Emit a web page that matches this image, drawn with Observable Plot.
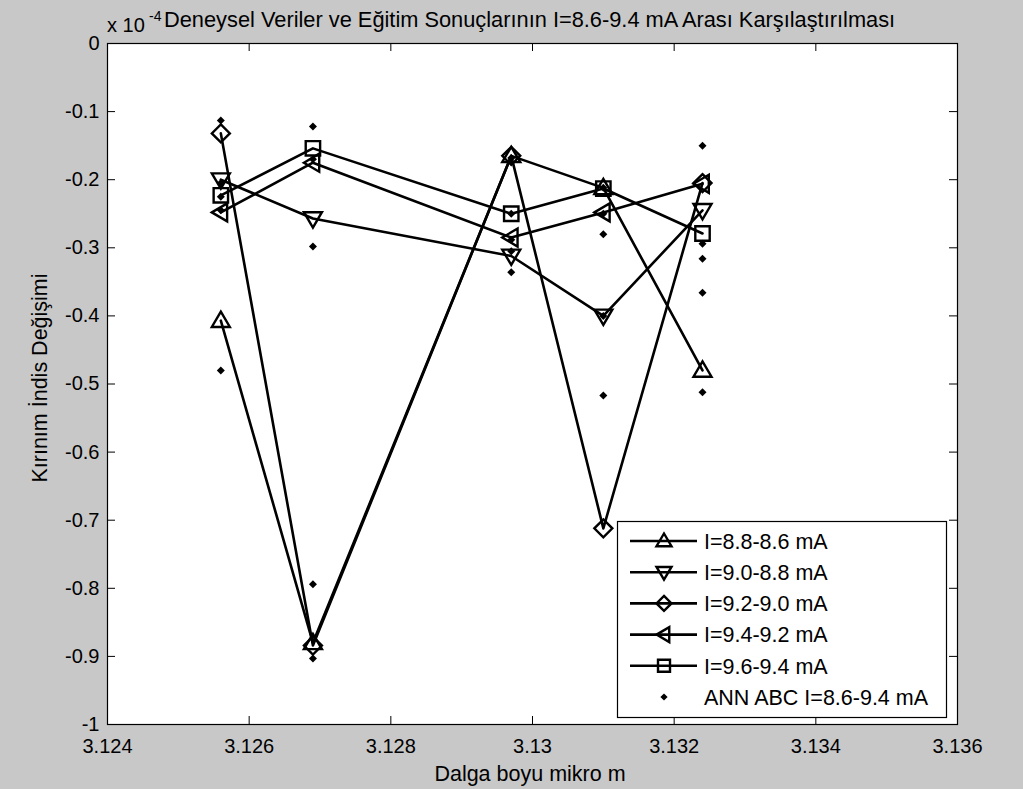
<!DOCTYPE html>
<html>
<head>
<meta charset="utf-8">
<script src="https://cdn.jsdelivr.net/npm/d3@7"></script>
<script src="https://cdn.jsdelivr.net/npm/@observablehq/plot@0.6"></script>
<style>
  html, body { margin: 0; padding: 0; background: #c8c8c8; overflow: hidden; }
  #wrap { position: relative; width: 1023px; height: 789px; font-family: "Liberation Sans", Arial, sans-serif; }
  #chart { position: absolute; left: 0; top: 0; }
  #overlay { position: absolute; left: 0; top: 0; pointer-events: none; }
</style>
</head>
<body>
<div id="wrap">
  <div id="chart"></div>
  <svg id="overlay" width="1023" height="789"></svg>
</div>
<script>
// ---- data ----
const wavelengths = [3.1256, 3.1269, 3.1297, 3.1310, 3.1324];
const seriesNames = ["I=8.8-8.6 mA", "I=9.0-8.8 mA", "I=9.2-9.0 mA", "I=9.4-9.2 mA", "I=9.6-9.4 mA"];
const s88_86 = [-0.407, -0.880, -0.165, -0.212, -0.480];
const s90_88 = [-0.200, -0.257, -0.312, -0.400, -0.245];
const s92_90 = [-0.132, -0.884, -0.165, -0.712, -0.205];
const s94_92 = [-0.248, -0.175, -0.285, -0.248, -0.206];
const s96_94 = [-0.223, -0.154, -0.250, -0.213, -0.279];
const annName = "ANN ABC I=8.6-9.4 mA";
const ann1 = [-0.113, -0.205, -0.225, -0.245, -0.480];
const ann2 = [-0.122, -0.170, -0.298, -0.794, -0.903];
const ann3 = [-0.168, -0.250, -0.288, -0.305, -0.336];
const ann4 = [-0.212, -0.250, -0.280, -0.400, -0.517];
const ann5 = [-0.150, -0.294, -0.316, -0.366, -0.512];
const xTicks = [3.124, 3.126, 3.128, 3.13, 3.132, 3.134, 3.136];
const yTicks = [0, -0.1, -0.2, -0.3, -0.4, -0.5, -0.6, -0.7, -0.8, -0.9, -1];
const titleText = "Deneysel Veriler ve Eğitim Sonuçlarının I=8.6-9.4 mA Arası Karşılaştırılması";
const xLabel = "Dalga boyu mikro m";
const yLabel = "Kırınım İndis Değişimi";

// ---- build tables ----
const seriesValues = [s88_86, s90_88, s92_90, s94_92, s96_94];
const rows = seriesValues.flatMap((vals, si) => vals.map((v, i) => ({s: seriesNames[si], w: wavelengths[i], v})));
const annRows = [ann1, ann2, ann3, ann4, ann5].flatMap((vals, i) => vals.map(v => ({w: wavelengths[i], v})));

// ---- marker shapes (MATLAB-like) ----
const shapes = {
  up:      [[0,-10],[10,7],[-10,7]],
  down:    [[0,10],[10,-7],[-10,-7]],
  diamond: [[0,-10],[10,0],[0,10],[-10,0]],
  left:    [[-10,0],[7,-10],[7,10]],
  square:  [[-8,-8],[8,-8],[8,8],[-8,8]],
  ann:     [[0,-4],[4,0],[0,4],[-4,0]]
};
function polySymbol(pts) {
  return {draw(ctx, size) {
    const k = Math.sqrt(size / Math.PI) / 10;
    pts.forEach(([px, py], i) => i ? ctx.lineTo(px*k, py*k) : ctx.moveTo(px*k, py*k));
    ctx.closePath();
  }};
}
const seriesShapes = ["up", "down", "diamond", "left", "square"];

const xDomain = [xTicks[0], xTicks[xTicks.length-1]];
const yDomain = [yTicks[yTicks.length-1], yTicks[0]];
const plotW = 1023 - 107 - 66, plotH = 789 - 43 - 65;
const tyLen = 8 / plotH * (yDomain[1] - yDomain[0]);
const txLen = 8 / plotW * (xDomain[1] - xDomain[0]);

const chart = Plot.plot({
  width: 1023, height: 789,
  marginLeft: 107, marginRight: 66, marginTop: 43, marginBottom: 65,
  x: {domain: xDomain},
  y: {domain: yDomain},
  style: {background: "transparent", fontFamily: "'Liberation Sans', Arial, sans-serif", fontSize: "20px", color: "black"},
  marks: [
    Plot.frame({fill: "white", stroke: null}),
    Plot.ruleX(xTicks, {y1: yDomain[0], y2: yDomain[0] + tyLen, stroke: "black", strokeWidth: 1}),
    Plot.ruleX(xTicks, {y1: yDomain[1], y2: yDomain[1] - tyLen, stroke: "black", strokeWidth: 1}),
    Plot.ruleY(yTicks, {x1: xDomain[0], x2: xDomain[0] + txLen, stroke: "black", strokeWidth: 1}),
    Plot.ruleY(yTicks, {x1: xDomain[1], x2: xDomain[1] - txLen, stroke: "black", strokeWidth: 1}),
    Plot.line(rows, {x: "w", y: "v", z: "s", stroke: "black", strokeWidth: 2.6}),
    ...seriesNames.map((name, si) => Plot.dot(rows.filter(d => d.s === name), {
      x: "w", y: "v", r: 9, symbol: polySymbol(shapes[seriesShapes[si]]),
      stroke: "black", strokeWidth: 2.4, fill: "none"
    })),
    Plot.dot(annRows, {x: "w", y: "v", r: 10, symbol: polySymbol(shapes.ann), fill: "black", stroke: null}),
    Plot.frame({stroke: "black", strokeWidth: 1.2}),
    Plot.axisX(xTicks, {tickSize: 0, tickPadding: 14, tickFormat: d => String(d), label: null}),
    Plot.axisY(yTicks, {tickSize: 0, tickPadding: 8, tickFormat: d => d === 0 ? "0" : String(d), label: null})
  ]
});
document.getElementById("chart").appendChild(chart);

// ---- titles, labels, legend ----
const ov = d3.select("#overlay").style("font-family", "'Liberation Sans', Arial, sans-serif");
ov.append("text").attr("x", 107).attr("y", 32).attr("font-size", 20).text("x 10");
ov.append("text").attr("x", 149).attr("y", 21).attr("font-size", 14).text("-4");
ov.append("text").attr("x", 164).attr("y", 27).attr("font-size", 21.8).text(titleText);
ov.append("text").attr("x", 530).attr("y", 781).attr("font-size", 21.5).attr("text-anchor", "middle").text(xLabel);
ov.append("text").attr("transform", "translate(47,378) rotate(-90)").attr("font-size", 21.5).attr("text-anchor", "middle").text(yLabel);

const lg = ov.append("g").attr("transform", "translate(617,521)");
lg.append("rect").attr("x", 0.5).attr("y", 0.5).attr("width", 329).attr("height", 196).attr("fill", "white").attr("stroke", "black").attr("stroke-width", 1.2);
const legendItems = seriesNames.map((n, i) => ({name: n, shape: seriesShapes[i], line: true})).concat([{name: annName, shape: "ann", line: false}]);
const sym = d3.symbol();
legendItems.forEach((it, i) => {
  const cy = 20 + i * 31.2;
  if (it.line) lg.append("line").attr("x1", 13).attr("x2", 80).attr("y1", cy).attr("y2", cy).attr("stroke", "black").attr("stroke-width", 2.6);
  const rr = it.line ? 7.5 : 9;
  const p = sym.type(polySymbol(shapes[it.shape])).size(rr * rr * Math.PI)();
  lg.append("path").attr("d", p).attr("transform", `translate(47,${cy})`)
    .attr("fill", it.line ? "none" : "black").attr("stroke", it.line ? "black" : "none").attr("stroke-width", 2.4);
  lg.append("text").attr("x", 87).attr("y", cy).attr("dy", "0.36em").attr("font-size", 21.5).text(it.name);
});
</script>
</body>
</html>
